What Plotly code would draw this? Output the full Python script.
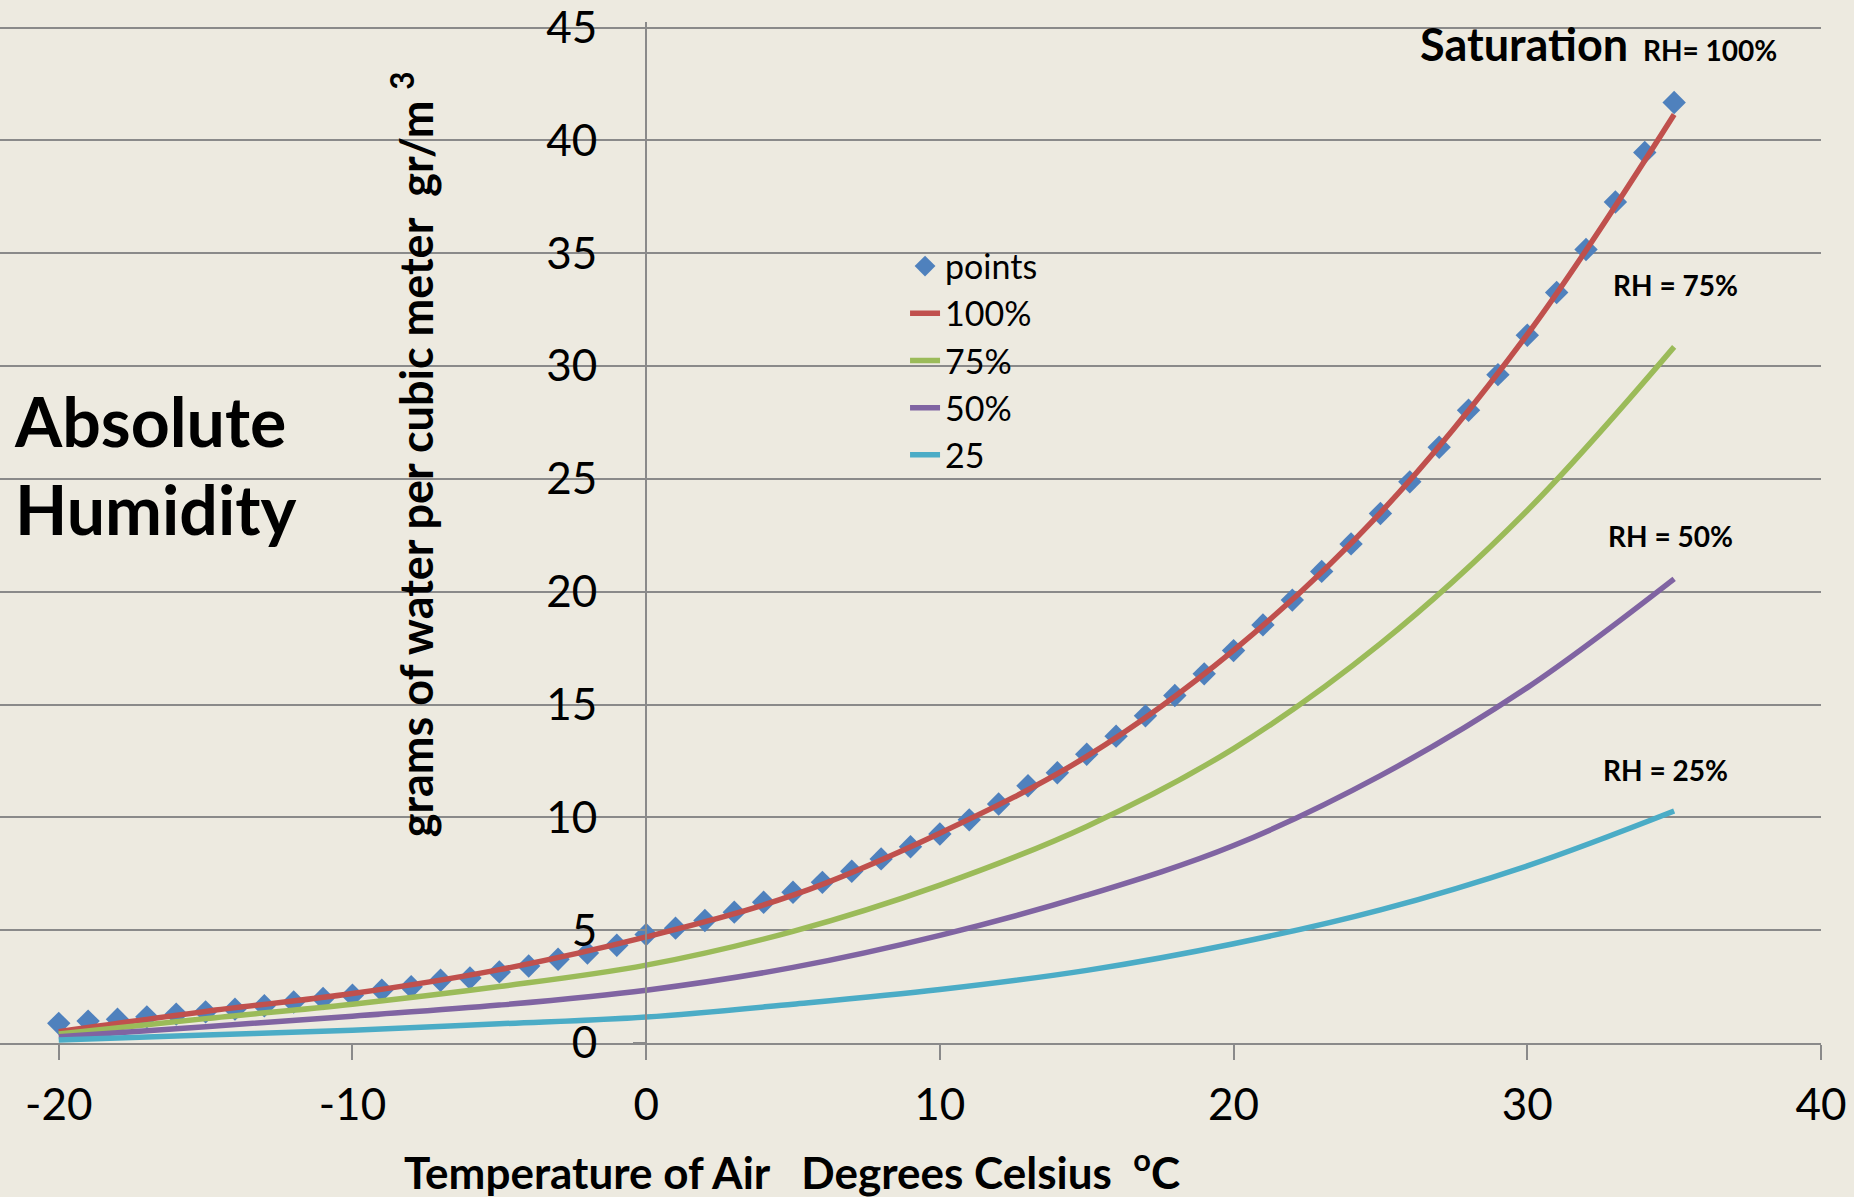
import plotly.graph_objects as go

# ---- data ----
temps_pts = list(range(-20, 36))
points = [0.87, 0.97, 1.05, 1.16, 1.28, 1.38, 1.50, 1.65, 1.82, 1.97,
          2.12, 2.34, 2.49, 2.78, 2.88, 3.15, 3.41, 3.71, 3.99, 4.33,
          4.81, 5.09, 5.43, 5.80, 6.24, 6.68, 7.12, 7.61, 8.16, 8.70,
          9.26, 9.89, 10.59, 11.40, 11.98, 12.80, 13.60, 14.50, 15.40, 16.36,
          17.39, 18.53, 19.63, 20.90, 22.12, 23.47, 24.87, 26.40, 28.04, 29.62,
          31.37, 33.26, 35.17, 37.27, 39.47, 41.68]

temps_line = [-20, -15, -10, -5, 0, 5, 10, 15, 20, 25, 30, 35]
rh100 = [0.50, 1.40, 2.19, 3.25, 4.70, 6.55, 9.30, 12.70, 17.40, 23.50, 31.40, 41.15]
rh75 = [0.40, 1.08, 1.72, 2.50, 3.45, 4.95, 7.00, 9.60, 13.05, 17.70, 23.60, 30.85]
rh50 = [0.28, 0.72, 1.19, 1.68, 2.34, 3.35, 4.77, 6.55, 8.75, 11.85, 15.75, 20.57]
rh25 = [0.13, 0.35, 0.57, 0.85, 1.15, 1.72, 2.37, 3.22, 4.40, 5.90, 7.85, 10.28]

x_ticks = [-20, -10, 0, 10, 20, 30, 40]
x_tick_labels = ["-20", "-10", "0", "10", "20", "30", "40"]
y_ticks = [0, 5, 10, 15, 20, 25, 30, 35, 40, 45]

BG = "#EDEAE0"
GRID = "#8A8A8A"
FONT = "Lato"

fig = go.Figure()

fig.add_trace(go.Scatter(
    x=temps_pts, y=points, mode="markers", name="points",
    marker=dict(symbol="diamond", size=18, color="#4F81BD"),
))

for name, vals, col in [("100%", rh100, "#C0504D"), ("75%", rh75, "#9BBB59"),
                        ("50%", rh50, "#8064A2"), ("25", rh25, "#4BACC6")]:
    fig.add_trace(go.Scatter(
        x=temps_line, y=vals, mode="lines", name=name,
        line=dict(color=col, width=5.5, shape="spline", smoothing=1.0),
    ))

# x position of the y axis (x = 0) in paper units
x_lo, x_hi = -22, 40
y_axis_pos = (0 - x_lo) / (x_hi - x_lo)

fig.update_layout(
    width=1854, height=1197,
    paper_bgcolor=BG, plot_bgcolor=BG,
    margin=dict(l=0, r=33, t=18, b=154),
    font=dict(family=FONT, color="black"),
    showlegend=True,
    legend=dict(x=0.497, y=0.789, xanchor="left", yanchor="top",
                bgcolor="rgba(0,0,0,0)", font=dict(size=34, family=FONT)),
    xaxis=dict(range=[x_lo, x_hi], tickvals=x_ticks, ticktext=x_tick_labels,
               showgrid=False, zeroline=False,
               showline=True, linecolor=GRID, linewidth=2,
               ticks="outside", ticklen=15, tickwidth=2, tickcolor=GRID,
               tickfont=dict(size=44), ticklabelstandoff=7),
    yaxis=dict(range=[0, 45.25], tickvals=y_ticks, showgrid=True, gridcolor=GRID, gridwidth=2,
               zeroline=False, anchor="free", position=y_axis_pos,
               showline=True, linecolor=GRID, linewidth=2,
               ticks="outside", ticklen=12, tickwidth=2, tickcolor=GRID,
               tickfont=dict(size=44), ticklabelstandoff=27, ticklabeloverflow="allow"),
)

ann = dict(showarrow=False, xref="paper", yref="paper", font=dict(family=FONT, color="black"))
fig.add_annotation(ann, x=0.0066, y=0.567, xanchor="left", yanchor="middle", align="left",
                   text="<b>Absolute<br>Humidity</b>", font=dict(size=68))
fig.add_annotation(ann, x=0.2270, y=0.577, xanchor="center", yanchor="middle", textangle=-90,
                   text="<b>grams of water per cubic meter\u00a0\u00a0gr/m\u00a0<sup>3</sup></b>",
                   font=dict(size=45))
fig.add_annotation(ann, x=0.435, y=-0.1236, xanchor="center", yanchor="middle",
                   text="<b>Temperature of Air\u00a0\u00a0\u00a0Degrees Celsius\u00a0\u00a0<sup>o</sup>C</b>",
                   font=dict(size=44))
fig.add_annotation(ann, x=0.7787, y=0.978, xanchor="left", yanchor="middle",
                   text="<b>Saturation</b>", font=dict(size=45))
fig.add_annotation(ann, x=0.9010, y=0.973, xanchor="left", yanchor="middle",
                   text="<b>RH= 100%</b>", font=dict(size=28))
fig.add_annotation(ann, x=0.8845, y=0.7425, xanchor="left", yanchor="middle",
                   text="<b>RH = 75%</b>", font=dict(size=28))
fig.add_annotation(ann, x=0.8818, y=0.4962, xanchor="left", yanchor="middle",
                   text="<b>RH = 50%</b>", font=dict(size=28))
fig.add_annotation(ann, x=0.8790, y=0.2676, xanchor="left", yanchor="middle",
                   text="<b>RH = 25%</b>", font=dict(size=28))

fig.write_html("out.html", config={"displayModeBar": False},
               post_script="document.body.style.margin = '0';")
